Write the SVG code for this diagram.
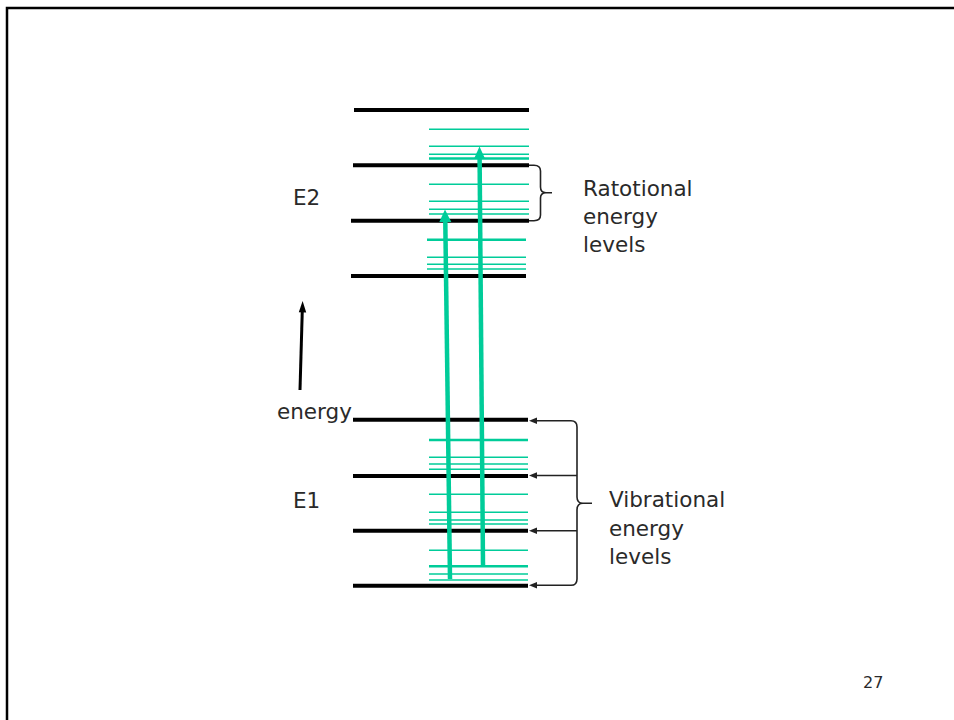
<svg xmlns="http://www.w3.org/2000/svg" width="954" height="720" viewBox="0 0 954 720">
<style>
.lvl{stroke:#000;stroke-width:4;fill:none}
.rt{stroke:#00CC99;stroke-width:1.4;fill:none}
.rtb{stroke:#00CC99;stroke-width:2.6;fill:none}
.gs{stroke:#00CC99;stroke-width:4.5;fill:none}
.gh{fill:#00CC99}
.br{stroke:#222;stroke-width:1.6;fill:none}
.bh{fill:#222}
text{font-family:"DejaVu Sans","Liberation Sans",sans-serif;fill:#2a2a2a}
.lab{font-size:21.5px}
</style>
<rect width="954" height="720" fill="#fff"/>
<path d="M7,720 V8 H954" stroke="#000" stroke-width="2.5" fill="none"/>
<g id="E2-levels">
<line class="lvl" x1="354" y1="110" x2="529" y2="110"/>
<line class="lvl" x1="353" y1="165.3" x2="529" y2="165.3"/>
<line class="lvl" x1="351" y1="220.7" x2="529" y2="220.7"/>
<line class="lvl" x1="351" y1="276" x2="526" y2="276"/>
<line class="rt" x1="429" y1="129.3" x2="529" y2="129.3"/>
<line class="rt" x1="429" y1="146.3" x2="529" y2="146.3"/>
<line class="rt" x1="429" y1="154.3" x2="529" y2="154.3"/>
<line class="rtb" x1="429" y1="158.5" x2="529" y2="158.5"/>
<line class="rt" x1="429" y1="184.3" x2="529" y2="184.3"/>
<line class="rt" x1="429" y1="201.3" x2="529" y2="201.3"/>
<line class="rt" x1="429" y1="209.3" x2="529" y2="209.3"/>
<line class="rt" x1="429" y1="214" x2="529" y2="214"/>
<line class="rtb" x1="427" y1="239.7" x2="526" y2="239.7"/>
<line class="rt" x1="427" y1="257.3" x2="526" y2="257.3"/>
<line class="rt" x1="427" y1="264.3" x2="526" y2="264.3"/>
<line class="rt" x1="427" y1="269" x2="526" y2="269"/>
</g>
<g id="E1-levels">
<line class="lvl" x1="353" y1="419.7" x2="528" y2="419.7"/>
<line class="lvl" x1="353" y1="476" x2="528" y2="476"/>
<line class="lvl" x1="353" y1="530.7" x2="528" y2="530.7"/>
<line class="lvl" x1="353" y1="585.7" x2="528" y2="585.7"/>
<line class="rtb" x1="429" y1="440" x2="528" y2="440"/>
<line class="rt" x1="429" y1="457.3" x2="528" y2="457.3"/>
<line class="rt" x1="429" y1="464" x2="528" y2="464"/>
<line class="rt" x1="429" y1="469.3" x2="528" y2="469.3"/>
<line class="rt" x1="429" y1="494.3" x2="528" y2="494.3"/>
<line class="rt" x1="429" y1="512.3" x2="528" y2="512.3"/>
<line class="rt" x1="429" y1="520" x2="528" y2="520"/>
<line class="rt" x1="429" y1="524" x2="528" y2="524"/>
<line class="rt" x1="429" y1="550.3" x2="528" y2="550.3"/>
<line class="rtb" x1="429" y1="566.3" x2="528" y2="566.3"/>
<line class="rt" x1="429" y1="574" x2="528" y2="574"/>
<line class="rt" x1="429" y1="580" x2="528" y2="580"/>
</g>
<g id="labels">
<text class="lab" x="293" y="205">E2</text>
<text class="lab" x="293" y="508">E1</text>
<text class="lab" x="277" y="419">energy</text>
<text class="lab" x="583" y="196">Ratotional</text>
<text class="lab" x="583" y="224">energy</text>
<text class="lab" x="583" y="252">levels</text>
<text class="lab" x="609" y="507">Vibrational</text>
<text class="lab" x="609" y="536">energy</text>
<text class="lab" x="609" y="564">levels</text>
<text x="863" y="688" font-size="16">27</text>
</g>
<g id="connectors">
<line class="gs" x1="450" y1="579" x2="445.3" y2="221"/>
<polygon class="gh" points="445,209.5 451.3,222 439.3,222"/>
<line class="gs" x1="483" y1="565" x2="479.6" y2="158"/>
<polygon class="gh" points="479.5,146.5 485.2,159 473.9,159"/>
<line x1="300" y1="390" x2="302.3" y2="310" stroke="#000" stroke-width="3"/>
<polygon points="302.6,301 306.2,312.5 298.8,312.3" fill="#000"/>
<path class="br" d="M529,165.3 H534 Q540.5,165.3 540.5,171 V187 Q540.5,192.7 546,192.7 H552 M546,192.7 Q540.5,192.7 540.5,198 V215 Q540.5,220.7 534,220.7 H529"/>
<path class="br" d="M536,420.7 H571 Q577,420.7 577,427 V497 Q577,503.3 583,503.3 H592 M583,503.3 Q577,503.3 577,510 V579 Q577,585.3 571,585.3 H536 M536,475.5 H577 M536,530.7 H577"/>
<polygon class="bh" points="529,420.7 537,417.5 537,423.9"/>
<polygon class="bh" points="529,475.5 537,472.3 537,478.7"/>
<polygon class="bh" points="529,530.7 537,527.5 537,533.9"/>
<polygon class="bh" points="529,585.3 537,582.1 537,588.5"/>
</g>
</svg>
